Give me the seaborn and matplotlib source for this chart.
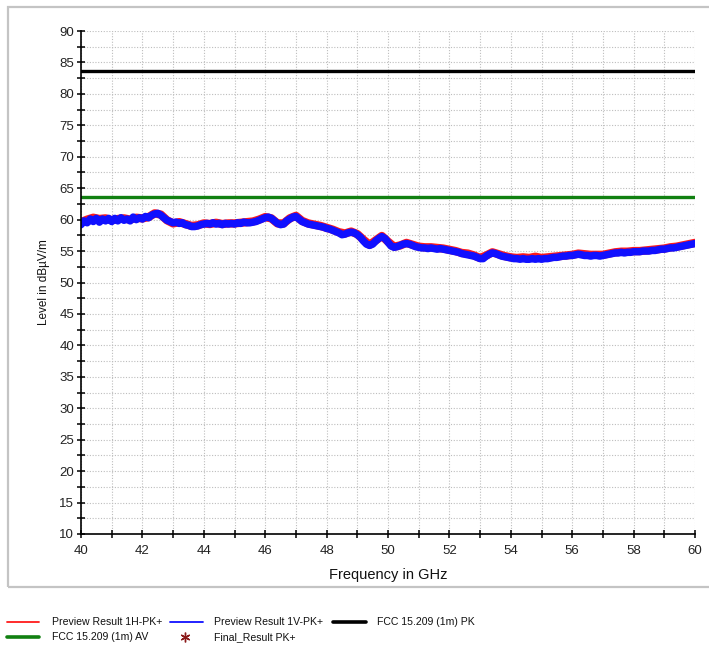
import numpy as np
import pandas as pd
import matplotlib
matplotlib.use("Agg")
import matplotlib.pyplot as plt
from matplotlib.lines import Line2D
from matplotlib.patches import Rectangle
from matplotlib.ticker import MultipleLocator
import seaborn as sns

# Preview scan, vertical polarisation (dBuV/m), 40.0 .. 60.0 GHz in 0.1 GHz steps
freq_v = np.round(np.arange(40.0, 60.01, 0.1), 2)
level_v = [
    59.2, 59.8, 59.5, 60.1, 59.7, 60.2, 59.6, 60.1, 59.8, 60.2,
    59.7, 60.2, 59.8, 60.3, 59.9, 60.1, 59.8, 60.4, 60.0, 60.3,
    60.1, 60.5, 60.3, 60.7, 60.9, 61.0, 60.7, 60.3, 59.9, 59.7,
    59.5, 59.6, 59.4, 59.5, 59.2, 59.1, 58.9, 58.9, 59.0, 59.2,
    59.3, 59.4, 59.3, 59.5, 59.3, 59.4, 59.2, 59.4, 59.3, 59.4,
    59.3, 59.5, 59.4, 59.6, 59.5, 59.5, 59.6, 59.7, 59.9, 60.1,
    60.3, 60.4, 60.2, 59.8, 59.4, 59.2, 59.3, 59.8, 60.1, 60.4,
    60.5, 60.1, 59.7, 59.5, 59.3, 59.2, 59.1, 59.0, 58.9, 58.8,
    58.6, 58.5, 58.3, 58.1, 57.9, 57.6, 57.7, 57.9, 58.0, 57.9,
    57.6, 57.2, 56.6, 56.1, 55.9, 56.1, 56.6, 57.0, 57.3, 57.0,
    56.4, 55.8, 55.6, 55.7, 55.9, 56.1, 56.2, 56.1, 55.9, 55.7,
    55.6, 55.5, 55.5, 55.4, 55.5, 55.4, 55.3, 55.4, 55.3, 55.2,
    55.1, 55.0, 54.9, 54.8, 54.6, 54.5, 54.4, 54.3, 54.2, 54.0,
    53.8, 53.8, 54.2, 54.5, 54.7, 54.6, 54.4, 54.2, 54.1, 54.0,
    53.9, 53.8, 53.8, 53.7, 53.8, 53.7, 53.7, 53.8, 53.7, 53.8,
    53.7, 53.8, 53.8, 53.9, 54.0, 54.0, 54.1, 54.2, 54.2, 54.3,
    54.3, 54.4, 54.5, 54.4, 54.3, 54.3, 54.2, 54.3, 54.3, 54.2,
    54.3, 54.4, 54.5, 54.6, 54.7, 54.7, 54.8, 54.7, 54.8, 54.8,
    54.9, 54.9, 54.9, 55.0, 55.0, 55.0, 55.1, 55.1, 55.2, 55.3,
    55.3, 55.4, 55.5, 55.5, 55.6, 55.7, 55.8, 55.9, 56.0, 56.1,
    56.2,
]

# Preview scan, horizontal polarisation, 0.2 GHz steps
freq_h = np.round(np.arange(40.0, 60.01, 0.2), 2)
level_h = [
    59.6, 60.0, 60.3, 60.1, 60.2, 59.9, 60.1, 60.2, 60.0, 60.3,
    60.2, 60.4, 61.0, 60.8, 59.9, 59.4, 59.6, 59.3, 59.0, 59.1,
    59.4, 59.3, 59.5, 59.3, 59.4, 59.4, 59.5, 59.6, 59.7, 60.0,
    60.4, 60.2, 59.4, 59.4, 60.2, 60.6, 59.8, 59.4, 59.2, 59.0,
    58.7, 58.4, 58.0, 57.8, 58.1, 57.7, 56.8, 56.0, 56.7, 57.4,
    56.5, 55.7, 55.9, 56.3, 56.0, 55.7, 55.6, 55.6, 55.5, 55.4,
    55.2, 55.0, 54.7, 54.6, 54.3, 53.9, 54.3, 54.8, 54.5, 54.2,
    54.0, 53.9, 54.0, 53.9, 54.1, 53.9, 54.0, 54.1, 54.2, 54.3,
    54.4, 54.6, 54.5, 54.4, 54.4, 54.4, 54.6, 54.8, 54.9, 54.9,
    55.0, 55.0, 55.1, 55.2, 55.3, 55.4, 55.6, 55.7, 55.9, 56.1,
    56.3,
]

# FCC 15.209 limits at 1 m
limit_freq = [40.0, 60.0]
limit_pk = [83.6, 83.6]
limit_av = [63.6, 63.6]

x_ticks = [40, 42, 44, 46, 48, 50, 52, 54, 56, 58, 60]
y_ticks = [10, 15, 20, 25, 30, 35, 40, 45, 50, 55, 60, 65, 70, 75, 80, 85, 90]

sns.set_style("white")
plt.rcParams["font.family"] = ["Liberation Sans", "DejaVu Sans"]

W, H = 709, 649
fig = plt.figure(figsize=(W / 100, H / 100), dpi=100)
ax = fig.add_axes([81 / W, 1 - 534 / H, (695 - 81) / W, (534 - 31) / H])

# outer panel frame
fig.add_artist(Rectangle((8 / W, 1 - 587 / H), 710 / W, 580 / H,
                         transform=fig.transFigure, fill=False,
                         edgecolor="#c4c4c4", linewidth=1.6))

df_h = pd.DataFrame({"f": freq_h, "lvl": level_h})
df_v = pd.DataFrame({"f": freq_v, "lvl": level_v})
df_pk = pd.DataFrame({"f": limit_freq, "lvl": limit_pk})
df_av = pd.DataFrame({"f": limit_freq, "lvl": limit_av})

sns.lineplot(data=df_pk, x="f", y="lvl", color="black", linewidth=2.4, ax=ax)
sns.lineplot(data=df_av, x="f", y="lvl", color="#118011", linewidth=2.4, ax=ax)
sns.lineplot(data=df_h, x="f", y="lvl", color="#ff1a1a", linewidth=6.0, ax=ax)
sns.lineplot(data=df_v, x="f", y="lvl", color="#1010ff", linewidth=5.4, ax=ax)

ax.set_xlim(40, 60)
ax.set_ylim(10, 90)
ax.set_xticks(x_ticks)
ax.set_yticks(y_ticks)
ax.xaxis.set_minor_locator(MultipleLocator(1))
ax.yaxis.set_minor_locator(MultipleLocator(2.5))
ax.tick_params(axis="both", which="both", direction="inout", length=5.8,
               width=1.1, color="black", labelsize=9.5, labelcolor="#222222",
               bottom=True, left=True, top=False, right=False)
ax.tick_params(axis="x", which="major", pad=5)
ax.tick_params(axis="y", which="major", pad=2)

ax.grid(True, which="both", color="#bdbdbd", linestyle=(0, (1, 1.5)), linewidth=0.8)
ax.set_axisbelow(True)
for s in ["top", "right"]:
    ax.spines[s].set_visible(False)
for s in ["left", "bottom"]:
    ax.spines[s].set_color("black")
    ax.spines[s].set_linewidth(1.2)

ax.set_xlabel("Frequency in GHz", fontsize=10.5, color="#111111", labelpad=8)
ax.set_ylabel("Level in dBµV/m", fontsize=8.5, color="#111111", labelpad=7)

# legend block below the panel
def fx(px):
    return px / W

def fy(py):
    return 1 - py / H

legend_items = [
    (7, 39, 622, "line", "#ff1a1a", 1.3, 52, "Preview Result 1H-PK+"),
    (170, 203, 622, "line", "#1010ff", 1.3, 214, "Preview Result 1V-PK+"),
    (333, 366, 622, "line", "black", 2.6, 377, "FCC 15.209 (1m) PK"),
    (7, 39, 637, "line", "#118011", 2.6, 52, "FCC 15.209 (1m) AV"),
    (185, 185, 637, "star", "#8b1a1a", 1.0, 214, "Final_Result PK+"),
]
for x0, x1, yy, kind, col, lw, tx, label in legend_items:
    if kind == "line":
        fig.add_artist(Line2D([fx(x0), fx(x1)], [fy(yy), fy(yy)],
                              transform=fig.transFigure, color=col, linewidth=lw))
    else:
        fig.add_artist(Line2D([fx(x0)], [fy(yy)], transform=fig.transFigure,
                              marker=(6, 2, 0), markersize=7, color=col,
                              markeredgewidth=1.0, linestyle="none"))
    fig.text(fx(tx), fy(yy), label, fontsize=7.6, va="center", ha="left",
             color="#111111")

fig.savefig("out.png", dpi=100)
